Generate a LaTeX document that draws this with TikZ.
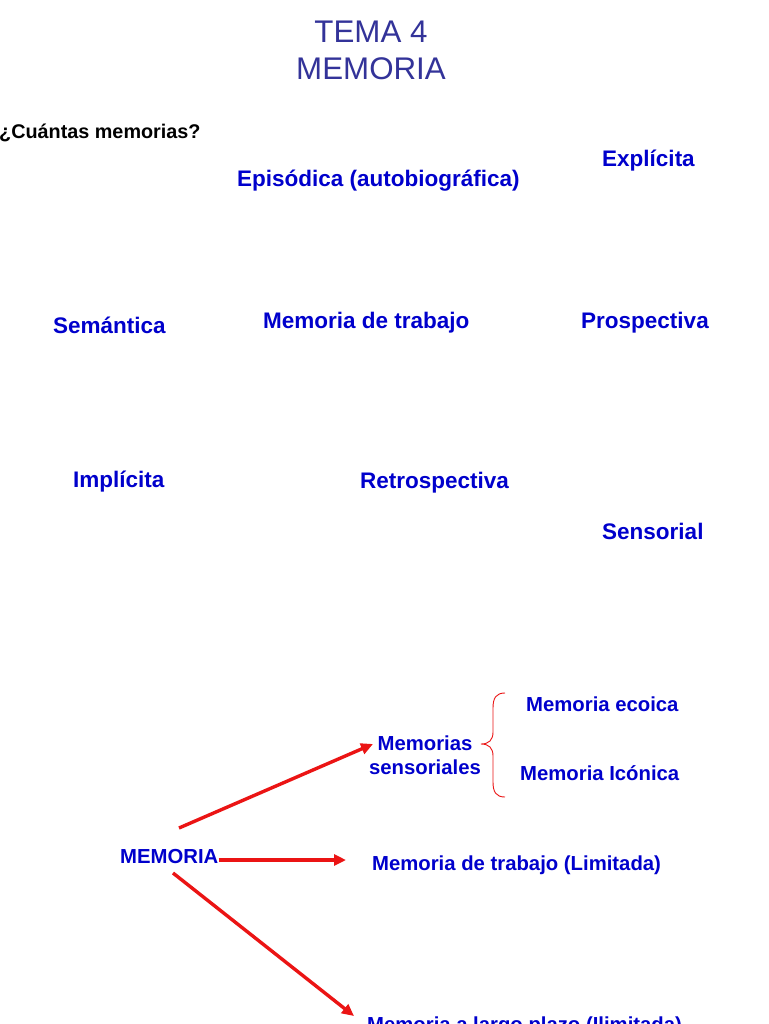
\documentclass[tikz,border=0pt]{standalone}
\usepackage{fontspec}
\setmainfont{Liberation Sans}
\usetikzlibrary{arrows.meta}
\definecolor{titleblue}{RGB}{51,51,153}
\definecolor{lblue}{RGB}{0,0,204}
\definecolor{arrred}{RGB}{235,20,20}
\tikzset{
  lbl/.style={inner sep=0pt, text=lblue, font=\fontsize{22.5}{26}\selectfont\bfseries, anchor=base west},
  lbls/.style={inner sep=0pt, text=lblue, font=\fontsize{20.3}{24}\selectfont\bfseries, anchor=base west},
  ttl/.style={inner sep=0pt, text=titleblue, font=\fontsize{31.3}{36}\selectfont, anchor=base},
  arr/.style={draw=arrred, line width=3.4pt, -{Triangle[length=12pt,width=11pt]}},
  brace/.style={draw=arrred, line width=0.9pt}
}
\begin{document}
\begin{tikzpicture}[x=1pt,y=-1pt]
\useasboundingbox (0,0) rectangle (768,1024);
\clip (0,0) rectangle (768,1024);
\fill[white] (0,0) rectangle (768,1024);
% title
\node[ttl] (t1) at (371,43) {TEMA 4};
\node[ttl] (t2) at (371,80) {MEMORIA};
\node[inner sep=0pt, anchor=base west, font=\fontsize{19.8}{23}\selectfont\bfseries] (q) at (-1,139) {¿Cuántas memorias?};
% words
\node[lbl] (expl) at (602,167) {Explícita};
\node[lbl] (epis) at (237,187) {Episódica (autobiográfica)};
\node[lbl] (sem) at (53,333) {Semántica};
\node[lbl] (mtr) at (263,328) {Memoria de trabajo};
\node[lbl] (pros) at (581,328) {Prospectiva};
\node[lbl] (impl) at (73,487) {Implícita};
\node[lbl] (retro) at (360,488) {Retrospectiva};
\node[lbl] (sens) at (602,539) {Sensorial};
% diagram
\node[lbls] (eco) at (526,711) {Memoria ecoica};
\node[lbls] (ico) at (520,780) {Memoria Icónica};
\node[inner sep=0pt, text=lblue, font=\fontsize{20.3}{24.5}\selectfont\bfseries, align=center, anchor=center] (msen) at (425,755) {Memorias\\sensoriales};
\node[lbls] (mem) at (120,863) {MEMORIA};
\node[lbls] (mtl) at (372,870) {Memoria de trabajo (Limitada)};
\node[lbls] (mlp) at (367,1031) {Memoria a largo plazo (Ilimitada)};
% arrows
\coordinate (a1s) at (179,828);
\coordinate (a1e) at (373,744);
\coordinate (a2e) at (346,860);
\coordinate (a3s) at (173,873);
\coordinate (a3e) at (354,1016);
\draw[arr] (a1s) -- (a1e);
\draw[arr] (mem.east |- a2e) -- (a2e);
\draw[arr] (a3s) -- (a3e);
% brace
\draw[brace] (505,693) .. controls (496,693) and (493,698) .. (493,708) -- (493,732)
  .. controls (493,740) and (489,744) .. (481,744)
  .. controls (489,744) and (493,748) .. (493,756) -- (493,782)
  .. controls (493,792) and (496,797) .. (505,797);
\end{tikzpicture}
\end{document}
